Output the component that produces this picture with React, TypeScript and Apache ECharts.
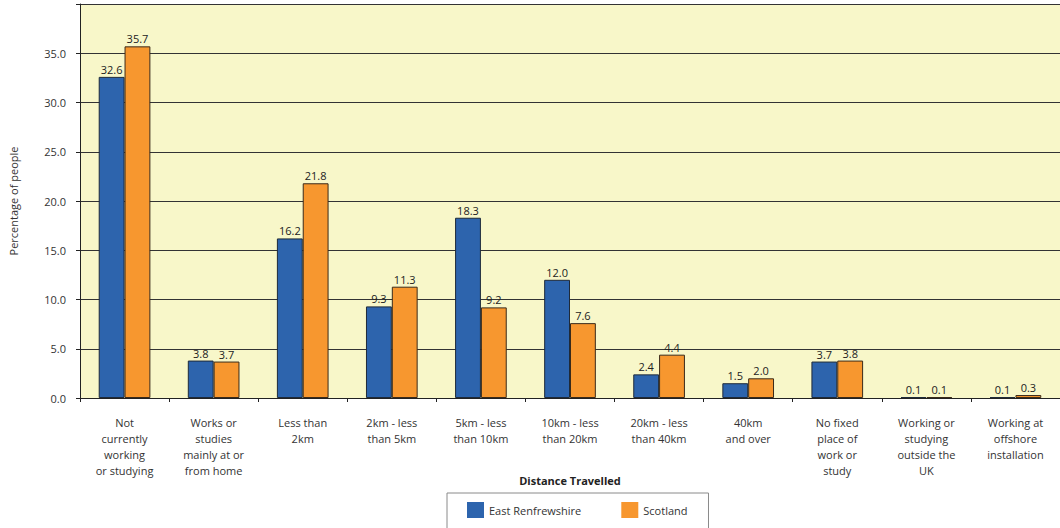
import React, { useEffect, useRef } from "react";
import * as echarts from "echarts";

const categories = [
  "Not\ncurrently\nworking\nor studying",
  "Works or\nstudies\nmainly at or\nfrom home",
  "Less than\n2km",
  "2km - less\nthan 5km",
  "5km - less\nthan 10km",
  "10km - less\nthan 20km",
  "20km - less\nthan 40km",
  "40km\nand over",
  "No fixed\nplace of\nwork or\nstudy",
  "Working or\nstudying\noutside the\nUK",
  "Working at\noffshore\ninstallation",
];
const eastRenfrewshire = [32.6, 3.8, 16.2, 9.3, 18.3, 12.0, 2.4, 1.5, 3.7, 0.1, 0.1];
const scotland = [35.7, 3.7, 21.8, 11.3, 9.2, 7.6, 4.4, 2.0, 3.8, 0.1, 0.3];
const seriesNames = ["East Renfrewshire", "Scotland"];
const yTitle = "Percentage of people";
const xTitle = "Distance Travelled";

const FONT = "'Open Sans', 'Noto Sans', sans-serif";

export default function App() {
  const ref = useRef<HTMLDivElement>(null);
  useEffect(() => {
    if (!ref.current) return;
    const chart = echarts.init(ref.current, undefined, { renderer: "svg" });
    const labelCfg = {
      show: true,
      position: "top" as const,
      distance: 2,
      fontFamily: FONT,
      fontSize: 11,
      color: "#222",
      formatter: (p: any) => Number(p.value).toFixed(1),
    };
    chart.setOption({
      animation: false,
      textStyle: { fontFamily: FONT },
      grid: {
        left: 77,
        top: 4,
        width: 992,
        height: 394,
        show: true,
        backgroundColor: "#F8F7C9",
        borderWidth: 0,
      },
      legend: {
        left: 447,
        top: 493,
        padding: [9, 21, 18, 20],
        itemGap: 40,
        itemWidth: 17,
        itemHeight: 16,
        borderColor: "#8a8a8a",
        borderWidth: 1,
        icon: "rect",
        itemStyle: { borderWidth: 0 },
        textStyle: { fontFamily: FONT, fontSize: 11, color: "#333" },
        data: seriesNames,
      },
      xAxis: {
        type: "category",
        data: categories,
        name: xTitle,
        nameLocation: "middle",
        nameGap: 77,
        nameMoveOverlap: false,
        nameTextStyle: { fontFamily: FONT, fontSize: 11, fontWeight: "bold", color: "#222" },
        axisLine: { lineStyle: { color: "#222", width: 1 } },
        axisTick: { show: true, length: 4, lineStyle: { color: "#222" } },
        axisLabel: {
          interval: 0,
          margin: 16,
          fontFamily: FONT,
          fontSize: 11,
          lineHeight: 16,
          color: "#333",
        },
      },
      yAxis: {
        type: "value",
        min: 0,
        max: 40,
        interval: 5,
        name: yTitle,
        nameLocation: "middle",
        nameGap: 61,
        nameRotate: 90,
        nameMoveOverlap: false,
        nameTextStyle: { fontFamily: FONT, fontSize: 11, color: "#333" },
        axisLine: { show: true, lineStyle: { color: "#222", width: 1 } },
        axisTick: { show: true, length: 4, inside: false, lineStyle: { color: "#222" } },
        axisLabel: {
          margin: 14,
          fontFamily: FONT,
          fontSize: 11,
          color: "#333",
          formatter: (v: number) => (v >= 40 ? "" : v.toFixed(1)),
        },
        splitLine: { show: true, lineStyle: { color: "#333", width: 1 } },
      },
      series: [
        {
          name: seriesNames[0],
          type: "bar",
          data: eastRenfrewshire,
          barGap: "0%",
          barCategoryGap: "42%",
          itemStyle: { color: "#2D64AD", borderColor: "#1e2a3a", borderWidth: 1 },
          label: labelCfg,
        },
        {
          name: seriesNames[1],
          type: "bar",
          data: scotland,
          itemStyle: { color: "#F7972F", borderColor: "#3a2a1a", borderWidth: 1 },
          label: labelCfg,
        },
      ],
    });
    return () => chart.dispose();
  }, []);
  return (
    <div
      ref={ref}
      style={{ position: "fixed", left: 0, top: 0, width: 1060, height: 528, background: "#fff" }}
    />
  );
}
